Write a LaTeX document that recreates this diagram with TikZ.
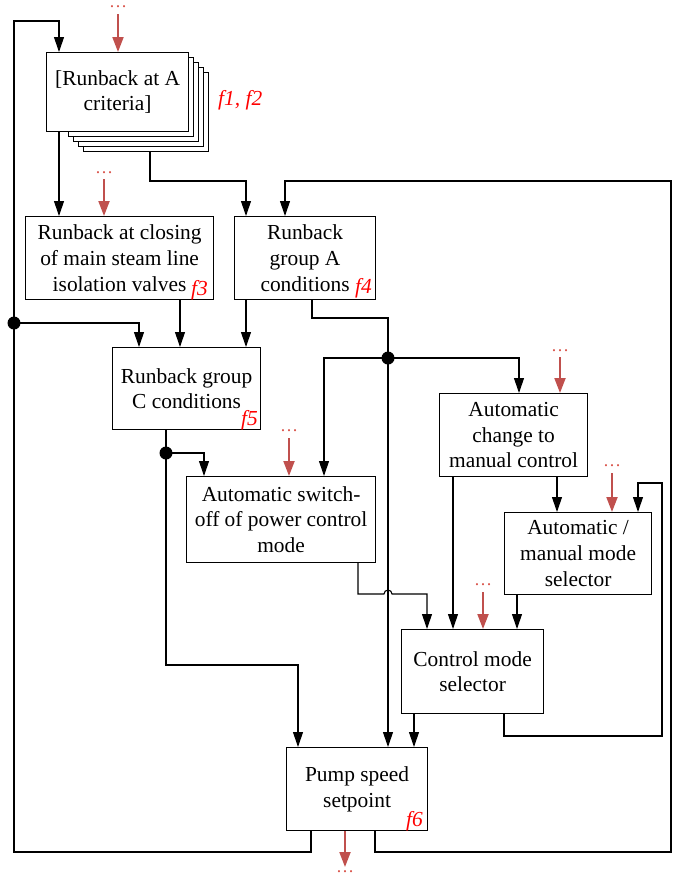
\documentclass[tikz,border=0pt]{standalone}
\usepackage{fontspec}
\setmainfont{Liberation Serif}
\usetikzlibrary{arrows.meta,calc}
\definecolor{redarr}{HTML}{C0504D}
\definecolor{reddot}{HTML}{D9534A}
\definecolor{flab}{HTML}{FF0000}
\begin{document}
\begin{tikzpicture}[x=1pt,y=-1pt,
  box/.style={draw=black,line width=1.2pt,fill=white,anchor=north west,inner sep=0pt,
    align=center,font=\fontsize{21.4}{25.7}\selectfont},
  flabel/.style={text=flab,font=\fontsize{21.4}{25.7}\selectfont\itshape,inner sep=0pt,anchor=base east},
  arr/.style={line width=1.1pt,-{Triangle[length=15pt,width=10pt]}},
  ln/.style={line width=1.1pt},
  rarr/.style={draw=redarr,line width=2pt,-{Triangle[length=15pt,width=11pt]}},
  dots/.style={text=reddot,font=\fontsize{18}{18}\selectfont,inner sep=0pt},
  jdot/.style={circle,fill=black,minimum size=13pt,inner sep=0pt}]
\useasboundingbox (0,0) rectangle (682,879);

% stacked criteria box
\foreach \i in {4,3,2,1}{
  \node[box,minimum width=125pt,minimum height=79pt] (s\i) at (63+5*\i,52+5*\i) {};
}
\node[box,minimum width=142pt,minimum height=79pt] (s0) at (46,52) {[Runback at A\\criteria]};
\node[text=flab,font=\fontsize{21.4}{25.7}\selectfont\itshape,inner sep=0pt,anchor=base west] (f12) at (218,105) {f1, f2};

% boxes
\node[box,minimum width=188pt,minimum height=83pt] (b2) at (25,216) {Runback at closing\\of main steam line\\isolation valves};
\node[box,minimum width=141pt,minimum height=83pt] (b3) at (234,216) {Runback\\group A\\conditions};
\node[box,minimum width=148pt,minimum height=82pt] (b5) at (112,347) {Runback group\\C conditions};
\node[box,minimum width=189pt,minimum height=86pt] (b7) at (186,476) {Automatic switch-\\off of power control\\mode};
\node[box,minimum width=148pt,minimum height=83pt] (b8) at (439,393) {Automatic\\change to\\manual control};
\node[box,minimum width=147pt,minimum height=82pt] (b9) at (504,512) {Automatic /\\manual mode\\selector};
\node[box,minimum width=142pt,minimum height=84pt] (b10) at (401,629) {Control mode\\selector};
\node[box,minimum width=141pt,minimum height=83pt] (b6) at (286,747) {Pump speed\\setpoint};

\node[flabel] (f3) at (208,295) {f3};
\node[flabel] (f4) at (372,293) {f4};
\node[flabel] (f5) at (258,425) {f5};
\node[flabel] (f6) at (423,826) {f6};

% junction dots and helper coordinates
\node[jdot] (j1) at (14,323) {};
\node[jdot] (j2) at (388,358) {};
\node[jdot] (j3) at (166,453) {};
\coordinate (LB) at (14,852);
\coordinate (LT) at (14,21);
\coordinate (RB) at (671,852);
\coordinate (RT) at (671,181);
\coordinate (k1) at (246,181);
\coordinate (k2) at (388,318);
\coordinate (k3) at (298,665);
\coordinate (k4) at (662,736);
\coordinate (k5) at (662,483);
\coordinate (jL) at (384,594);

% left loop
\draw[arr] ($(b6.south west)+(25,0)$) |- (LB) -- (LT) -| ($(s0.north west)+(13,0)$);
% right loop
\draw[arr] ($(b6.south west)+(89,0)$) |- (RB) -- (RT) -| ($(b3.north west)+(51,0)$);

\draw[arr] ($(s0.south west)+(13,0)$) -- ($(b2.north west)+(34,0)$);
\draw[arr] ($(s4.south west)+(67,0)$) |- (k1) -- (k1 |- b3.north);
\draw[arr] ($(b2.south west)+(155,0)$) -- ($(b5.north west)+(68,0)$);
\draw[arr] ($(b3.south west)+(12,0)$) -- ($(b5.north west)+(134,0)$);
\draw[arr] (j1.center) -| ($(b5.north west)+(27,0)$);
\draw[ln] ($(b3.south west)+(78,0)$) |- (k2) -- (j2.center);
\draw[arr] (j2.center) -- (j2 |- b6.north);
\draw[arr] (j2.center) -| ($(b7.north west)+(138,0)$);
\draw[arr] (j2.center) -| ($(b8.north west)+(80,0)$);
\draw[ln] ($(b5.south west)+(54,0)$) -- (j3.center);
\draw[arr] (j3.center) -| ($(b7.north west)+(18,0)$);
\draw[arr] (j3.center) |- (k3) -- (k3 |- b6.north);
\draw[arr] ($(b7.south west)+(172,0)$) |- (jL) arc[start angle=180,end angle=0,radius=4pt] -| ($(b10.north west)+(26,0)$);
\draw[arr] ($(b8.south west)+(14,0)$) -- ($(b10.north west)+(52,0)$);
\draw[arr] ($(b8.south west)+(118,0)$) -- ($(b9.north west)+(53,0)$);
\draw[arr] ($(b9.south west)+(13,0)$) -- ($(b10.north west)+(116,0)$);
\draw[arr] ($(b10.south west)+(13,0)$) -- ($(b6.north west)+(128,0)$);
\draw[arr] ($(b10.south west)+(103,0)$) |- (k4) -- (k5) -| ($(b9.north west)+(134,0)$);

% red inputs / output
\node[dots] (d1) at (118,7) {…};
\node[dots] (d2) at (104,173) {…};
\node[dots] (d3) at (560,351) {…};
\node[dots] (d4) at (289,431) {…};
\node[dots] (d5) at (612,466) {…};
\node[dots] (d6) at (483,585) {…};
\node[dots] (d7) at (345,872) {…};
\draw[rarr] ($(d1)+(0,7)$) -- (d1 |- s0.north);
\draw[rarr] ($(d2)+(0,6)$) -- (d2 |- b2.north);
\draw[rarr] ($(d3)+(0,6)$) -- (d3 |- b8.north);
\draw[rarr] ($(d4)+(0,7)$) -- (d4 |- b7.north);
\draw[rarr] ($(d5)+(0,7)$) -- (d5 |- b9.north);
\draw[rarr] ($(d6)+(0,7)$) -- (d6 |- b10.north);
\draw[rarr] (d7 |- b6.south) -- ($(d7)+(0,-5)$);
\end{tikzpicture}
\end{document}
